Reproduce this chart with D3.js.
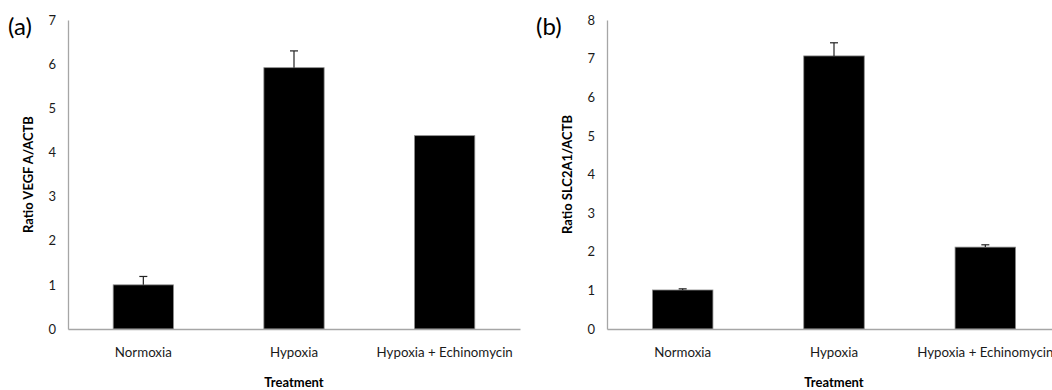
<!DOCTYPE html>
<html>
<head>
<meta charset="utf-8">
<script src="https://cdn.jsdelivr.net/npm/d3@7"></script>
<style>
  body { margin: 0; background: #fff; }
  svg { display: block; }
</style>
</head>
<body>
<svg id="svg" width="1052" height="390"></svg>
<script>
// values
var categories = ["Normoxia", "Hypoxia", "Hypoxia + Echinomycin"];
var vegfValues = [1.0, 5.92, 4.38];
var vegfErrors = [0.19, 0.38, 0];
var vegfTicks = [0, 1, 2, 3, 4, 5, 6, 7];
var slcValues = [1.01, 7.07, 2.12];
var slcErrors = [0.03, 0.34, 0.06];
var slcTicks = [0, 1, 2, 3, 4, 5, 6, 7, 8];

var svg = d3.select("#svg");
var font = "Lato, 'Open Sans', sans-serif";
var textColor = "#1a1a1a";

var drawPanel = function(opt) {
  var g = svg.append("g");

  var x = d3.scaleBand()
    .range([opt.left, opt.left + opt.plotWidth])
    .domain(categories);

  var y = d3.scaleLinear()
    .range([opt.bottom, opt.top])
    .domain([0, d3.max(opt.ticks)]);

  var rows = categories.map((c, i) => ({key: c, value: opt.values[i], err: opt.errors[i]}));
  var barW = x.bandwidth() * 0.4;

  // bars
  g.append("g")
    .selectAll("rect")
    .data(rows)
    .join("rect")
      .attr("x", d => x(d.key) + (x.bandwidth() - barW) / 2)
      .attr("y", d => y(d.value))
      .attr("width", barW)
      .attr("height", d => y(0) - y(d.value))
      .attr("fill", "#000")
      .attr("stroke", "#8c8c8c")
      .attr("stroke-width", 0.8);

  // error bars (upper only)
  var eb = g.append("g")
    .attr("stroke", "#222")
    .attr("stroke-width", 1.2)
    .selectAll("g")
    .data(rows.filter(d => d.err > 0))
    .join("g");
  eb.append("line")
    .attr("x1", d => x(d.key) + x.bandwidth() / 2)
    .attr("x2", d => x(d.key) + x.bandwidth() / 2)
    .attr("y1", d => y(d.value))
    .attr("y2", d => y(d.value + d.err));
  eb.append("line")
    .attr("x1", d => x(d.key) + x.bandwidth() / 2 - 4)
    .attr("x2", d => x(d.key) + x.bandwidth() / 2 + 4)
    .attr("y1", d => y(d.value + d.err))
    .attr("y2", d => y(d.value + d.err));

  // y axis
  var ya = g.append("g")
    .attr("transform", "translate(" + opt.left + ",0)")
    .call(d3.axisLeft(y).tickValues(opt.ticks).tickSize(0).tickPadding(12).tickFormat(d3.format("d")));
  ya.select(".domain").attr("stroke", "#a6a6a6").attr("stroke-width", 1.3);
  ya.selectAll("text")
    .attr("font-family", font)
    .attr("font-size", 13)
    .attr("fill", textColor);

  // x axis
  var xa = g.append("g")
    .attr("transform", "translate(0," + opt.bottom + ")")
    .call(d3.axisBottom(x).tickSize(0).tickPadding(19));
  xa.select(".domain").attr("stroke", "#a6a6a6").attr("stroke-width", 1.3);
  xa.selectAll("text")
    .attr("font-family", font)
    .attr("font-size", 13.3)
    .attr("fill", textColor);

  // axis titles
  g.append("text")
    .attr("transform", "translate(" + opt.titleX + "," + ((opt.top + opt.bottom) / 2) + ") rotate(-90)")
    .attr("text-anchor", "middle")
    .attr("dy", "0.35em")
    .attr("font-family", font)
    .attr("font-weight", "bold")
    .attr("font-size", 13)
    .attr("fill", "#000")
    .text(opt.yTitle);

  g.append("text")
    .attr("x", opt.left + x.bandwidth() * 1.5)
    .attr("y", 387)
    .attr("text-anchor", "middle")
    .attr("font-family", font)
    .attr("font-weight", "bold")
    .attr("font-size", 13)
    .attr("fill", "#000")
    .text("Treatment");

  // panel letter
  g.append("text")
    .attr("x", opt.letterX)
    .attr("y", 35)
    .attr("font-family", font)
    .attr("font-size", 24)
    .attr("fill", "#000")
    .text(opt.letter);
};

drawPanel({
  left: 68, plotWidth: 452, top: 20, bottom: 329,
  values: vegfValues, errors: vegfErrors, ticks: vegfTicks,
  yTitle: "Ratio VEGF A/ACTB", titleX: 28, letter: "(a)", letterX: 8
});

drawPanel({
  left: 607, plotWidth: 454, top: 20, bottom: 329,
  values: slcValues, errors: slcErrors, ticks: slcTicks,
  yTitle: "Ratio SLC2A1/ACTB", titleX: 567, letter: "(b)", letterX: 536
});
</script>
</body>
</html>
